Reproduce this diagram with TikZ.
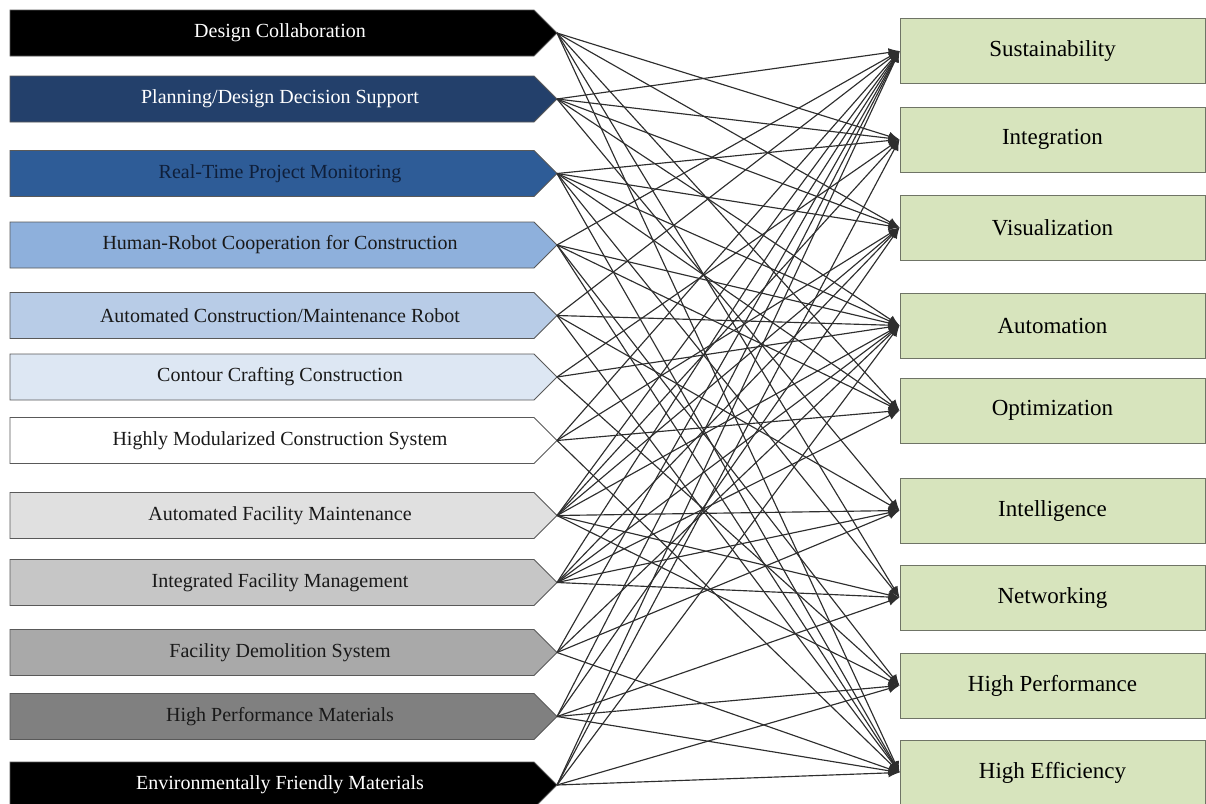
\documentclass[tikz,border=0pt]{standalone}
\usepackage{fontspec}
\setmainfont{Liberation Serif}
\usetikzlibrary{arrows.meta}

\definecolor{techA}{HTML}{000000}
\definecolor{techB}{HTML}{23406B}
\definecolor{techC}{HTML}{2E5C97}
\definecolor{techD}{HTML}{8EB0DC}
\definecolor{techE}{HTML}{B8CCE7}
\definecolor{techF}{HTML}{DDE7F3}
\definecolor{techG}{HTML}{FFFFFF}
\definecolor{techH}{HTML}{E0E0E0}
\definecolor{techI}{HTML}{C6C6C6}
\definecolor{techJ}{HTML}{A9A9A9}
\definecolor{techK}{HTML}{808080}
\definecolor{navytext}{HTML}{0F1F3A}
\definecolor{goalfill}{HTML}{D7E4BD}
\definecolor{goalborder}{HTML}{6F7466}

% one arrow-shaped technology box: name, vertical centre, fill, text colour, label
\newcommand\techbox[5]{%
  \filldraw[tech, fill=#3] (10,{#2-23}) -- (534,{#2-23}) -- (557,#2)
     -- (534,{#2+23}) -- (10,{#2+23}) -- cycle;
  \node[techtext, text=#4] (#1) at (280,#2) {#5};
  \coordinate (#1tip) at (557,#2);
}

\begin{document}
\begin{tikzpicture}[x=1pt,y=-1pt,
  tech/.style={draw=black!65, line width=0.8pt},
  techtext/.style={font=\fontsize{20}{24}\selectfont, inner sep=0pt},
  goal/.style={draw=goalborder, fill=goalfill, line width=1pt,
    minimum width=305pt, minimum height=65pt, inner sep=0pt,
    font=\fontsize{23}{26}\selectfont},
  link/.style={draw=black!82, line width=1.15pt,
    -{Latex[length=11pt,width=9pt]}}]
\useasboundingbox (0,0) rectangle (1206,803);

% technologies
\techbox{t1}{33}{techA}{white}{Design Collaboration}
\techbox{t2}{99}{techB}{white}{Planning/Design Decision Support}
\techbox{t3}{173.5}{techC}{navytext}{Real-Time Project Monitoring}
\techbox{t4}{245}{techD}{black!90}{Human-Robot Cooperation for Construction}
\techbox{t5}{315.5}{techE}{black!90}{Automated Construction/Maintenance Robot}
\techbox{t6}{377}{techF}{black!90}{Contour Crafting Construction}
\techbox{t7}{440.5}{techG}{black!90}{Highly Modularized Construction System}
\techbox{t8}{515.5}{techH}{black!90}{Automated Facility Maintenance}
\techbox{t9}{582.5}{techI}{black!90}{Integrated Facility Management}
\techbox{t10}{652.5}{techJ}{black!90}{Facility Demolition System}
\techbox{t11}{716.5}{techK}{black!90}{High Performance Materials}
\techbox{t12}{785}{techA}{white}{Environmentally Friendly Materials}

% goals
\node[goal] (g1) at (1052.5,51)  {Sustainability};
\node[goal] (g2) at (1052.5,139.5) {Integration};
\node[goal] (g3) at (1052.5,227.5) {Visualization};
\node[goal] (g4) at (1052.5,325.5) {Automation};
\node[goal] (g5) at (1052.5,410.5) {Optimization};
\node[goal] (g6) at (1052.5,510.5) {Intelligence};
\node[goal] (g7) at (1052.5,597.5) {Networking};
\node[goal] (g8) at (1052.5,685.5) {High Performance};
\node[goal] (g9) at (1052.5,772.5) {High Efficiency};

% links from technologies to goals
\foreach \s/\t in {
  1/2, 1/3, 1/5, 1/7, 1/9,
  2/1, 2/2, 2/3, 2/4, 2/6,
  3/2, 3/3, 3/4, 3/5, 3/7, 3/9,
  4/1, 4/4, 4/5, 4/8, 4/9,
  5/1, 5/4, 5/6, 5/9,
  6/2, 6/4, 6/8,
  7/1, 7/3, 7/5, 7/9,
  8/1, 8/2, 8/3, 8/4, 8/6, 8/7, 8/8,
  9/1, 9/3, 9/4, 9/5, 9/6, 9/7,
  10/1, 10/4, 10/6, 10/9,
  11/1, 11/3, 11/7, 11/8, 11/9,
  12/1, 12/2, 12/4, 12/8, 12/9}
  \draw[link] (t\s tip) -- (g\t.west);
\end{tikzpicture}
\end{document}
